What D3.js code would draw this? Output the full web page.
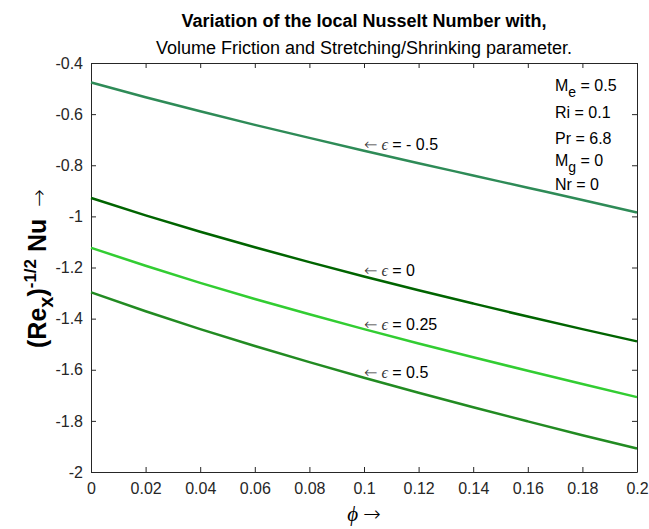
<!DOCTYPE html>
<html>
<head>
<meta charset="utf-8">
<script src="https://cdn.jsdelivr.net/npm/d3@7"></script>
<style>
  html, body { margin: 0; padding: 0; background: #fff; }
  svg { display: block; font-family: "Liberation Sans", Arial, Helvetica, sans-serif; }
</style>
</head>
<body>
<svg id="chart" width="649" height="529"></svg>
<script>
// Volume fraction phi
const phi = [0, 0.02, 0.04, 0.06, 0.08, 0.1, 0.12, 0.14, 0.16, 0.18, 0.2];

// Local Nusselt number (Re_x)^(-1/2) Nu for each stretching/shrinking parameter
const nuEpsNeg05 = [-0.476, -0.534, -0.589, -0.642, -0.693, -0.743, -0.792, -0.840, -0.888, -0.936, -0.985];
const nuEps0     = [-0.928, -0.996, -1.060, -1.121, -1.179, -1.235, -1.289, -1.341, -1.392, -1.441, -1.489];
const nuEps025   = [-1.123, -1.193, -1.260, -1.323, -1.383, -1.441, -1.497, -1.551, -1.604, -1.656, -1.707];
const nuEps05    = [-1.297, -1.371, -1.441, -1.507, -1.570, -1.631, -1.690, -1.747, -1.802, -1.856, -1.908];

const seriesEps = ["- 0.5", "0", "0.25", "0.5"];
const seriesValues = [nuEpsNeg05, nuEps0, nuEps025, nuEps05];
const seriesColors = ["#2e8b57", "#006400", "#32cd32", "#228b22"];
// where each curve label is placed (phi, Nusselt axis value of the baseline)
const labelPhi = [0.1, 0.1, 0.1, 0.1];
const labelNu = [-0.740, -1.233, -1.445, -1.632];

const xTicks = [0, 0.02, 0.04, 0.06, 0.08, 0.1, 0.12, 0.14, 0.16, 0.18, 0.2];
const xTickLabels = ["0", "0.02", "0.04", "0.06", "0.08", "0.1", "0.12", "0.14", "0.16", "0.18", "0.2"];
const yTicks = [-2, -1.8, -1.6, -1.4, -1.2, -1, -0.8, -0.6, -0.4];
const yTickLabels = ["-2", "-1.8", "-1.6", "-1.4", "-1.2", "-1", "-0.8", "-0.6", "-0.4"];

const svg = d3.select("#chart");
const m = { left: 91, right: 12, top: 63, bottom: 57 };
const W = 649, H = 529;
const pw = W - m.left - m.right, ph = H - m.top - m.bottom;

const x = d3.scaleLinear().domain([0, 0.2]).range([m.left, m.left + pw]);
const y = d3.scaleLinear().domain([-2, -0.4]).range([m.top + ph, m.top]);

const tickLen = 5;
const tickFont = 16;
const serif = "'Liberation Serif', 'DejaVu Serif', serif";
const arrowFont = "'DejaVu Sans', sans-serif";

// Bottom axis
const gx = svg.append("g").attr("transform", `translate(0,${m.top + ph})`)
  .call(d3.axisBottom(x).tickValues(xTicks).tickSizeInner(-tickLen).tickSizeOuter(0).tickPadding(11)
    .tickFormat((d, i) => xTickLabels[i]));
// Top axis (ticks only)
const gxt = svg.append("g").attr("transform", `translate(0,${m.top})`)
  .call(d3.axisTop(x).tickValues(xTicks).tickSizeInner(-tickLen).tickSizeOuter(0).tickFormat(""));
// Left axis
const gy = svg.append("g").attr("transform", `translate(${m.left},0)`)
  .call(d3.axisLeft(y).tickValues(yTicks).tickSizeInner(-tickLen).tickSizeOuter(0).tickPadding(8)
    .tickFormat((d, i) => yTickLabels[i]));
// Right axis (ticks only)
const gyr = svg.append("g").attr("transform", `translate(${m.left + pw},0)`)
  .call(d3.axisRight(y).tickValues(yTicks).tickSizeInner(-tickLen).tickSizeOuter(0).tickFormat(""));

[gx, gxt, gy, gyr].forEach(g => {
  g.selectAll(".domain").attr("stroke", "#262626").attr("stroke-width", 1);
  g.selectAll(".tick line").attr("stroke", "#262626");
  g.selectAll("text").attr("font-size", tickFont).attr("fill", "#262626")
    .attr("font-family", "'Liberation Sans', Arial, sans-serif");
});

// Curves
const line = d3.line().x((d, i) => x(phi[i])).y(d => y(d)).curve(d3.curveMonotoneX);
seriesValues.forEach((vals, k) => {
  svg.append("path").datum(vals)
    .attr("fill", "none")
    .attr("stroke", seriesColors[k])
    .attr("stroke-width", 2.5)
    .attr("d", line);
});

// Curve labels: "← ϵ = value"
seriesEps.forEach((eps, k) => {
  const t = svg.append("text")
    .attr("x", x(labelPhi[k]))
    .attr("y", y(labelNu[k]))
    .attr("font-size", 16)
    .attr("fill", "#000");
  t.append("tspan").attr("font-family", arrowFont).attr("font-weight", 200).attr("fill", "#333").text("\u2190");
  t.append("tspan").attr("font-family", serif).attr("font-style", "italic").attr("fill", "#333").text(" \u03f5");
  t.append("tspan").text(" = " + eps);
});

// Parameter list
const params = [
  { main: "M", sub: "e", rest: " = 0.5" },
  { main: "Ri = 0.1" },
  { main: "Pr = 6.8" },
  { main: "M", sub: "g", rest: " = 0" },
  { main: "Nr = 0" }
];
const paramY = [91, 118, 144, 166, 190];
params.forEach((p, i) => {
  const t = svg.append("text").attr("x", 555).attr("y", paramY[i]).attr("font-size", 16).attr("fill", "#000");
  t.append("tspan").text(p.main);
  if (p.sub) {
    t.append("tspan").attr("dy", 6).attr("font-size", 14).text(p.sub);
    t.append("tspan").attr("dy", -6).text(p.rest);
  }
});

// Title
svg.append("text").attr("x", m.left + pw / 2).attr("y", 27)
  .attr("text-anchor", "middle").attr("font-size", 18).attr("font-weight", "bold")
  .text("Variation of the local Nusselt Number with,");
svg.append("text").attr("x", m.left + pw / 2).attr("y", 54)
  .attr("text-anchor", "middle").attr("font-size", 18)
  .text("Volume Friction and Stretching/Shrinking parameter.");

// X label
const xl = svg.append("text").attr("x", m.left + pw / 2).attr("y", 521)
  .attr("text-anchor", "middle").attr("font-size", 21)
  .attr("font-family", serif);
xl.append("tspan").attr("font-style", "italic").text("\u03d5 ");
xl.append("tspan").attr("font-family", arrowFont).attr("font-weight", 200).text("\u2192");

// Y label
const yl = svg.append("text")
  .attr("transform", `translate(46,348) rotate(-90)`)
  .attr("text-anchor", "start").attr("font-size", 25).attr("font-weight", "bold");
yl.append("tspan").text("(Re");
yl.append("tspan").attr("dy", 7).attr("font-size", 20).text("x");
yl.append("tspan").attr("dy", -7).text(")");
yl.append("tspan").attr("dy", -10).attr("font-size", 17).text("-1/2");
yl.append("tspan").attr("dy", 10).text(" Nu");
yl.append("tspan").attr("font-weight", 200).attr("font-family", arrowFont).attr("font-size", 21).attr("dx", 12).text("\u2192");
</script>
</body>
</html>
